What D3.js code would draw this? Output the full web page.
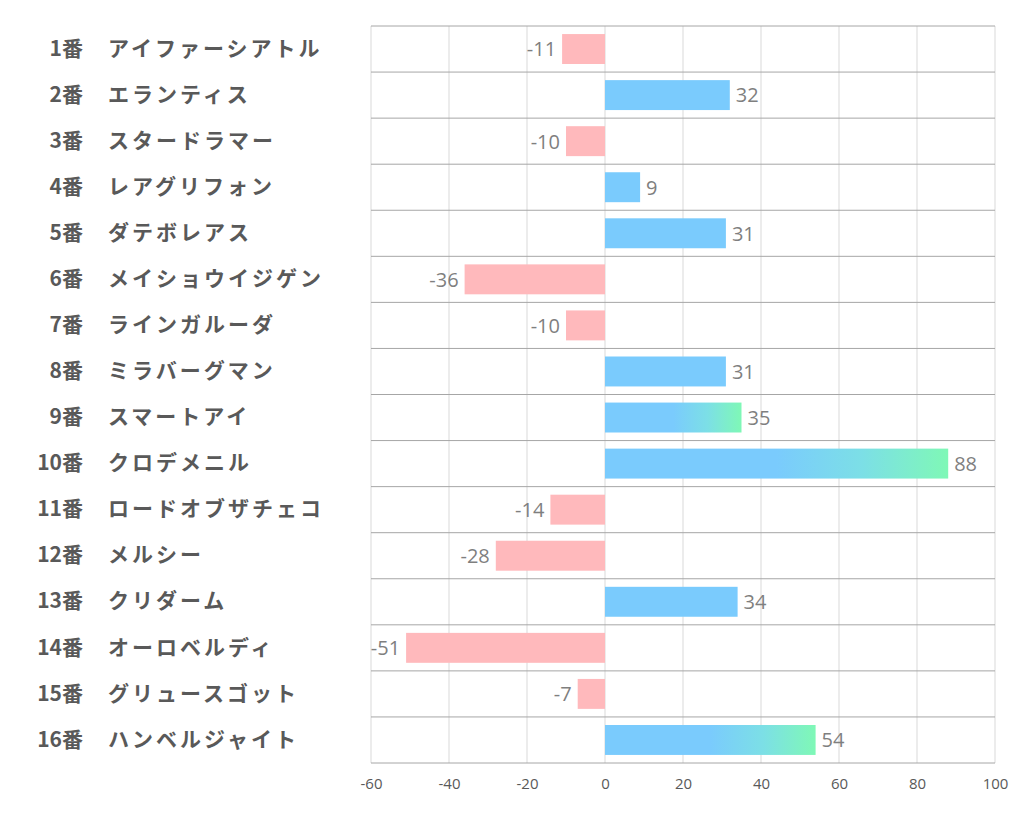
<!DOCTYPE html>
<html>
<head>
<meta charset="utf-8">
<script src="https://cdn.jsdelivr.net/npm/d3@7"></script>
<style>
  body { margin: 0; background: #fff; }
  svg text { font-family: "Noto Sans CJK JP", "Noto Sans", sans-serif; }
</style>
</head>
<body>
<div id="container"></div>
<script>
const nums = ["1番", "2番", "3番", "4番", "5番", "6番", "7番", "8番", "9番", "10番", "11番", "12番", "13番", "14番", "15番", "16番"]
const names = ["アイファーシアトル", "エランティス", "スタードラマー", "レアグリフォン", "ダテボレアス", "メイショウイジゲン", "ラインガルーダ", "ミラバーグマン", "スマートアイ", "クロデメニル", "ロードオブザチェコ", "メルシー", "クリダーム", "オーロベルディ", "グリュースゴット", "ハンベルジャイト"]
const values = [-11, 32, -10, 9, 31, -36, -10, 31, 35, 88, -14, -28, 34, -51, -7, 54]
const ticks = [-60, -40, -20, 0, 20, 40, 60, 80, 100]
const highlightFrom = 35

const width = 1022
const height = 834
const margin = { top: 26, left: 371, right: 27, bottom: 71 }

const svg = d3.select('#container')
    .append('svg').attr('width', width).attr('height', height)

const x = d3.scaleLinear().domain([-60, 100]).range([margin.left, width - margin.right])
const y = d3.scaleBand().domain(d3.range(values.length))
    .range([margin.top, height - margin.bottom]).paddingInner(0.35).paddingOuter(0.175)

const rowH = y.step()
const plotTop = margin.top
const plotBottom = height - margin.bottom

// gradient for the big ones
const defs = svg.append("defs")
const grad = defs.append("linearGradient").attr("id", "hiGrad")
    .attr("x1", "0").attr("x2", "1").attr("y1", "0").attr("y2", "0")
grad.append("stop").attr("offset", "0.5").attr("stop-color", "#7acbfd")
grad.append("stop").attr("offset", "0.75").attr("stop-color", "#7cdfe6")
grad.append("stop").attr("offset", "1").attr("stop-color", "#7ff8b6")

// vertical grid
svg.append("g").selectAll("line").data(ticks).join("line")
    .attr("x1", d => x(d)).attr("x2", d => x(d))
    .attr("y1", plotTop).attr("y2", plotBottom)
    .attr("stroke", "#d9d9d9").attr("stroke-width", 1)

// row lines
svg.append("g").selectAll("line").data(d3.range(values.length + 1)).join("line")
    .attr("x1", x(-60)).attr("x2", x(100))
    .attr("y1", i => plotTop + i * rowH).attr("y2", i => plotTop + i * rowH)
    .attr("stroke", "#a6a6a6").attr("stroke-width", 1)

// bars
svg.append("g").selectAll("rect").data(values).join("rect")
    .attr("x", d => x(Math.min(0, d)))
    .attr("width", d => Math.abs(x(d) - x(0)))
    .attr("y", (d, i) => y(i))
    .attr("height", y.bandwidth())
    .attr("fill", d => d < 0 ? "#ffb9bc" : (d >= highlightFrom ? "url(#hiGrad)" : "#7acbfd"))

// value labels
svg.append("g").selectAll("text").data(values).join("text")
    .attr("x", d => d < 0 ? x(d) - 6 : x(d) + 6)
    .attr("y", (d, i) => y(i) + y.bandwidth() / 2 + 2)
    .attr("text-anchor", d => d < 0 ? "end" : "start")
    .attr("dominant-baseline", "middle")
    .attr("fill", "#7f7f7f")
    .style("font-family", "'Open Sans', sans-serif")
    .attr("font-size", 20)
    .text(d => d)

// category labels
const labels = svg.append("g")
labels.selectAll("text.num").data(nums).join("text")
    .attr("class", "num")
    .attr("x", 83)
    .attr("y", (d, i) => y(i) + y.bandwidth() / 2 + 1)
    .attr("text-anchor", "end")
    .attr("dominant-baseline", "middle")
    .attr("fill", "#595959").attr("font-weight", "bold").attr("font-size", 21)
    .text(d => d)
labels.selectAll("text.name").data(names).join("text")
    .attr("class", "name")
    .attr("x", 108)
    .attr("y", (d, i) => y(i) + y.bandwidth() / 2 + 1)
    .attr("dominant-baseline", "middle")
    .attr("fill", "#595959").attr("font-weight", "bold").attr("font-size", 21)
    .attr("letter-spacing", 3)
    .text(d => d)

// x axis
const xAxis = d3.axisBottom(x).tickValues(ticks).tickSize(0).tickPadding(15).tickFormat(d => String(d))
const ax = svg.append("g").attr("transform", `translate(0,${plotBottom})`).call(xAxis)
ax.select(".domain").remove()
ax.selectAll("text")
    .attr("fill", "#595959")
    .style("font-family", "'Open Sans', sans-serif")
    .attr("font-size", 15)
</script>
</body>
</html>
